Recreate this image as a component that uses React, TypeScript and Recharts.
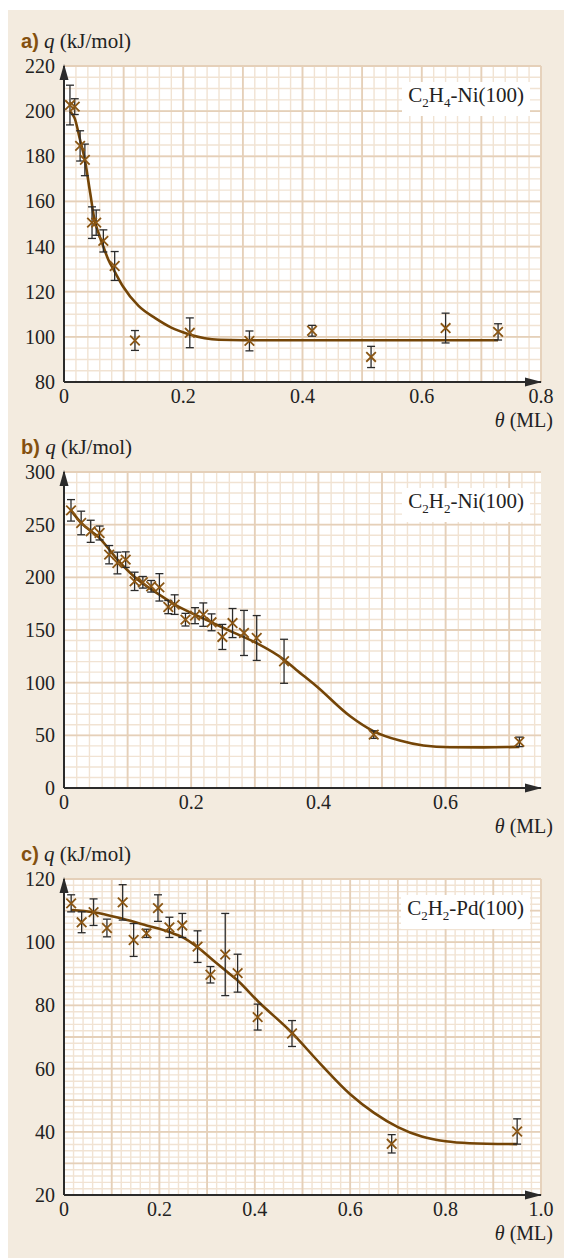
import React from 'react';
import {
  ComposedChart,
  Line,
  Scatter,
  ErrorBar,
  XAxis,
  YAxis,
  CartesianGrid,
  ReferenceDot,
} from 'recharts';

/* ------------------------------------------------------------------ */
/*  data                                           */
/* ------------------------------------------------------------------ */
// a) C2H4-Ni(100)
const thetaA = [0.010, 0.018, 0.027, 0.035, 0.047, 0.054, 0.066, 0.085, 0.119, 0.211, 0.311, 0.416, 0.515, 0.640, 0.728];
const heatA = [202.7, 202.0, 184.6, 178.4, 150.6, 150.6, 142.5, 131.4, 98.4, 101.8, 98.2, 102.7, 91.1, 103.9, 102.2];
const errA = [8.8, 3.5, 6.7, 7.0, 7.0, 5.6, 4.9, 6.4, 4.4, 6.6, 4.4, 2.4, 4.7, 6.6, 3.6];
const fitThetaA = [0.010, 0.018, 0.027, 0.035, 0.044, 0.051, 0.058, 0.066, 0.074, 0.085, 0.099, 0.125, 0.153, 0.180, 0.208, 0.236, 0.26, 0.30, 0.40, 0.50, 0.60, 0.728];
const fitHeatA = [199.8, 196.8, 187.2, 178.4, 163.6, 152.1, 145.9, 140.0, 134.4, 128.9, 122.3, 113.7, 108.3, 104.1, 101.3, 99.4, 98.7, 98.5, 98.5, 98.5, 98.5, 98.5];

// b) C2H2-Ni(100)
const thetaB = [0.011, 0.027, 0.042, 0.056, 0.071, 0.084, 0.097, 0.111, 0.124, 0.137, 0.150, 0.164, 0.174, 0.191, 0.206, 0.219, 0.232, 0.249, 0.265, 0.283, 0.303, 0.346, 0.487, 0.716];
const heatB = [263.6, 251.6, 243.7, 242.1, 221.5, 213.6, 216.8, 196.2, 195.3, 191.5, 190.5, 171.8, 174.1, 159.8, 163.6, 164.6, 157.3, 143.4, 156.6, 147.2, 142.4, 120.3, 50.7, 43.8];
const errB = [10.2, 11.2, 10.5, 6.6, 8.7, 10.3, 7.4, 8.7, 5.5, 5.5, 13.0, 6.3, 9.3, 6.0, 7.6, 11.1, 8.0, 11.9, 13.8, 21.4, 21.3, 20.9, 3.6, 4.5];
const fitThetaB = [0.011, 0.027, 0.056, 0.084, 0.111, 0.150, 0.174, 0.206, 0.232, 0.265, 0.303, 0.346, 0.365, 0.397, 0.450, 0.487, 0.528, 0.565, 0.607, 0.659, 0.716];
const fitHeatB = [263.6, 251.6, 237.3, 216.8, 200.3, 183.5, 174.1, 164.6, 157.3, 148.0, 137.5, 121.8, 112.3, 96.6, 68.1, 53.8, 45.0, 40.3, 38.7, 38.6, 39.0];

// c) C2H2-Pd(100)
const thetaC = [0.015, 0.037, 0.062, 0.090, 0.123, 0.146, 0.173, 0.197, 0.221, 0.248, 0.280, 0.307, 0.338, 0.364, 0.406, 0.478, 0.687, 0.950];
const heatC = [112.3, 106.3, 109.5, 104.5, 112.6, 100.7, 102.8, 110.8, 104.7, 105.3, 98.6, 89.7, 96.1, 90.2, 76.3, 71.1, 36.2, 40.1];
const errC = [2.7, 3.3, 4.2, 2.8, 5.6, 5.2, 1.3, 4.2, 3.2, 3.8, 5.0, 2.6, 13.0, 6.0, 4.1, 4.1, 2.9, 4.0];
const fitThetaC = [0.015, 0.062, 0.123, 0.173, 0.221, 0.248, 0.280, 0.307, 0.338, 0.364, 0.406, 0.478, 0.537, 0.600, 0.650, 0.700, 0.750, 0.800, 0.850, 0.950];
const fitHeatC = [110.2, 109.5, 107.4, 105.3, 103.2, 101.6, 98.4, 95.0, 91.1, 87.9, 81.4, 71.3, 61.6, 51.9, 46.0, 41.5, 38.5, 37.0, 36.4, 36.1];

// tick labels
const xTicksA = [0, 0.2, 0.4, 0.6, 0.8];
const yTicksA = [80, 100, 120, 140, 160, 180, 200, 220];
const xTicksB = [0, 0.2, 0.4, 0.6];
const yTicksB = [0, 50, 100, 150, 200, 250, 300];
const xTicksC = [0, 0.2, 0.4, 0.6, 0.8, 1.0];
const yTicksC = [20, 40, 60, 80, 100, 120];

/* ------------------------------------------------------------------ */
const BROWN = '#744507';
const MARK = '#8a5614';
const INK = '#2b2b2b';
const PAPER = '#f3ebdf';
const GRID_MAJOR = '#e5d0b9';
const GRID_MINOR = '#f1e3d3';
const SERIF = 'Liberation Serif';
const SANS = 'Liberation Sans';

const PLOT_H = 316;
const TOP_M = 20;

// grid line positions (graph-paper spacing)
const steps = (lo: number, hi: number, step: number) => {
  const out: number[] = [];
  for (let i = 0; lo + i * step <= hi + 1e-9; i++) out.push(+(lo + i * step).toFixed(4));
  return out;
};

const zip = (xs: number[], ys: number[], es?: number[]) =>
  xs.map((x, i) => (es ? { x, y: ys[i], err: es[i] } : { x, y: ys[i] }));

const Cross = (p: any) => {
  const { cx, cy } = p;
  if (cx == null || cy == null) return null;
  const s = 4.8;
  return (
    <path
      d={`M${cx - s},${cy - s}L${cx + s},${cy + s}M${cx - s},${cy + s}L${cx + s},${cy - s}`}
      stroke={MARK}
      strokeWidth={1.8}
      fill="none"
    />
  );
};

const ArrowUp = (p: any) => (
  <path d={`M${p.cx},${p.cy - 2}L${p.cx - 4.5},${p.cy + 14}L${p.cx + 4.5},${p.cy + 14}Z`} fill={INK} />
);
const ArrowRight = (p: any) => (
  <path d={`M${p.cx + 1},${p.cy}L${p.cx - 16},${p.cy - 4.5}L${p.cx - 16},${p.cy + 4.5}Z`} fill={INK} />
);

const fmtX = (v: number) => (v === 0 ? '0' : v.toFixed(1));

const XTick = (p: any) => (
  <text x={p.x} y={p.y + 21} textAnchor="middle" style={{ fontFamily: SERIF, fontSize: 20 }} fill="#222">
    {fmtX(p.payload.value)}
  </text>
);
const YTick = (p: any) => (
  <text x={p.x - 9} y={p.y + 7} textAnchor="end" style={{ fontFamily: SERIF, fontSize: 20 }} fill="#222">
    {p.payload.value}
  </text>
);

interface PanelProps {
  top: number;
  letter: string;
  label: React.ReactNode;
  xDomain: [number, number];
  yDomain: [number, number];
  xTicks: number[];
  yTicks: number[];
  yMajor: number;
  yMinor: number;
  points: { x: number; y: number; err?: number }[];
  fit: { x: number; y: number }[];
}

function Panel({ top, letter, label, xDomain, yDomain, xTicks, yTicks, yMajor, yMinor, points, fit }: PanelProps) {
  return (
    <>
      <div
        style={{
          position: 'absolute',
          left: 21,
          top: top - 37,
          fontFamily: SERIF,
          fontSize: 21,
          lineHeight: '24px',
          color: '#222',
          whiteSpace: 'nowrap',
        }}
      >
        <span style={{ fontFamily: SANS, fontWeight: 700, color: '#84500f', fontSize: 20 }}>{letter})</span>{' '}
        <i>q</i> (kJ/mol)
      </div>
      <div
        style={{
          position: 'absolute',
          right: 564 - 530,
          top: top + 16,
          background: '#fff',
          padding: '1px 6px',
          fontFamily: SERIF,
          fontSize: 21,
          lineHeight: '25px',
          color: '#222',
          whiteSpace: 'nowrap',
          zIndex: 2,
        }}
      >
        {label}
      </div>
      <div
        style={{
          position: 'absolute',
          right: 564 - 553,
          top: top + PLOT_H + 26,
          fontFamily: SERIF,
          fontSize: 20,
          lineHeight: '24px',
          color: '#222',
          whiteSpace: 'nowrap',
        }}
      >
        <i>θ</i> (ML)
      </div>
      <div style={{ position: 'absolute', left: 0, top: top - TOP_M }}>
        <ComposedChart
          width={564}
          height={TOP_M + PLOT_H + 34}
          margin={{ top: TOP_M, right: 23, bottom: 0, left: 14 }}
        >
          <CartesianGrid
            fill="#fff"
            stroke={GRID_MINOR}
            strokeWidth={1.4}
            verticalValues={steps(xDomain[0], xDomain[1], 0.02)}
            horizontalValues={steps(yDomain[0], yDomain[1], yMinor)}
          />
          <CartesianGrid
            stroke={GRID_MAJOR}
            strokeWidth={1.8}
            verticalValues={steps(xDomain[0], xDomain[1], 0.1)}
            horizontalValues={steps(yDomain[0], yDomain[1], yMajor)}
          />
          <XAxis
            dataKey="x"
            type="number"
            domain={xDomain}
            ticks={xTicks}
            height={34}
            tickSize={0}
            tickMargin={0}
            axisLine={{ stroke: INK, strokeWidth: 2 }}
            tickLine={false}
            tick={<XTick />}
            interval={0}
          />
          <YAxis
            dataKey="y"
            type="number"
            domain={yDomain}
            ticks={yTicks}
            width={50}
            tickSize={0}
            tickMargin={0}
            axisLine={{ stroke: INK, strokeWidth: 2 }}
            tickLine={false}
            tick={<YTick />}
            interval={0}
          />
          <Line
            data={fit}
            dataKey="y"
            type="monotone"
            stroke={BROWN}
            strokeWidth={2.6}
            dot={false}
            activeDot={false}
            isAnimationActive={false}
          />
          <Scatter data={points} fill={MARK} shape={<Cross />} isAnimationActive={false}>
            <ErrorBar dataKey="err" direction="y" width={4} stroke={INK} strokeWidth={1.3} isAnimationActive={false} />
          </Scatter>
          <ReferenceDot x={xDomain[1]} y={yDomain[0]} r={1} shape={<ArrowRight />} />
          <ReferenceDot x={0} y={yDomain[1]} r={1} shape={<ArrowUp />} />
        </ComposedChart>
      </div>
    </>
  );
}

export default function App() {
  return (
    <div style={{ position: 'fixed', left: 0, top: 0, width: 564, height: 1260, overflow: 'hidden', background: '#fff' }}>
      <div style={{ position: 'absolute', left: 8, top: 10, width: 556, height: 1248, background: PAPER }} />
      <Panel
        top={66}
        letter="a"
        label={<>C<sub style={{ fontSize: 13 }}>2</sub>H<sub style={{ fontSize: 13 }}>4</sub>-Ni(100)</>}
        xDomain={[0, 0.8]}
        yDomain={[80, 220]}
        xTicks={xTicksA}
        yTicks={yTicksA}
        yMajor={20}
        yMinor={5}
        points={zip(thetaA, heatA, errA) as any}
        fit={zip(fitThetaA, fitHeatA)}
      />
      <Panel
        top={472}
        letter="b"
        label={<>C<sub style={{ fontSize: 13 }}>2</sub>H<sub style={{ fontSize: 13 }}>2</sub>-Ni(100)</>}
        xDomain={[0, 0.75]}
        yDomain={[0, 300]}
        xTicks={xTicksB}
        yTicks={yTicksB}
        yMajor={50}
        yMinor={10}
        points={zip(thetaB, heatB, errB) as any}
        fit={zip(fitThetaB, fitHeatB)}
      />
      <Panel
        top={879}
        letter="c"
        label={<>C<sub style={{ fontSize: 13 }}>2</sub>H<sub style={{ fontSize: 13 }}>2</sub>-Pd(100)</>}
        xDomain={[0, 1.0]}
        yDomain={[20, 120]}
        xTicks={xTicksC}
        yTicks={yTicksC}
        yMajor={10}
        yMinor={2}
        points={zip(thetaC, heatC, errC) as any}
        fit={zip(fitThetaC, fitHeatC)}
      />
    </div>
  );
}
